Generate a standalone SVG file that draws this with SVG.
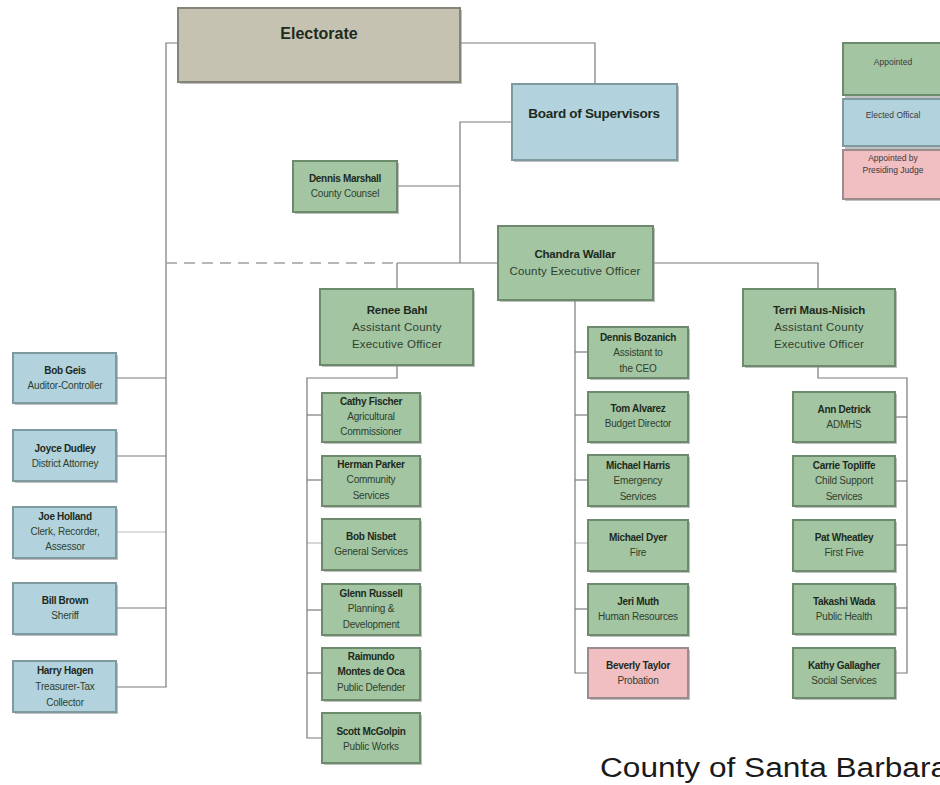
<svg xmlns="http://www.w3.org/2000/svg" width="940" height="785" viewBox="0 0 940 785">
<style>
text{font-family:"Liberation Sans",Arial,sans-serif;fill:#1e2a1e;text-anchor:middle;dominant-baseline:central}
.n{font-weight:bold;font-size:10px;letter-spacing:-0.3px}
.t{font-size:10px;fill:#2f3f2f;letter-spacing:-0.2px}
.N{font-weight:bold;font-size:11.5px;letter-spacing:-0.2px}
.T{font-size:11.5px;fill:#2f3f2f;letter-spacing:0.2px}
.sh{fill:#8d8d8d;opacity:0.55}
.gr{fill:#a3c5a2;stroke:#6d8a6c;stroke-width:2}
.bl{fill:#b2d3dd;stroke:#7f9a9f;stroke-width:2}
.pk{fill:#f1bec2;stroke:#9a8c8c;stroke-width:2}
.el{fill:#c5c2b1;stroke:#85847a;stroke-width:2}
.c{fill:none;stroke:#7a7a7a;stroke-width:1.2}
.d{fill:none;stroke:#a0a0a0;stroke-width:1.5;stroke-dasharray:11 7}
.lg{font-size:8.5px;fill:#3a3a3a}
</style>
<rect width="940" height="785" fill="#ffffff"/>
<g id="connectors">
<polyline class="c" points="178,43 166,43 166,687 117,687"/>
<line class="c" x1="117" y1="378" x2="166" y2="378"/>
<line class="c" x1="117" y1="456" x2="166" y2="456"/>
<line class="c" x1="117" y1="532" x2="166" y2="532" stroke-opacity="0.5"/>
<line class="c" x1="117" y1="608" x2="166" y2="608"/>
<polyline class="c" points="460,43 595,43 595,84"/>
<polyline class="c" points="512,122 460,122 460,263"/>
<line class="c" x1="397" y1="186" x2="460" y2="186"/>
<line class="d" x1="166" y1="263" x2="397" y2="263"/>
<line class="c" x1="397" y1="263" x2="498" y2="263"/>
<line class="c" x1="397" y1="263" x2="397" y2="289"/>
<polyline class="c" points="653,263 818,263 818,289"/>
<polyline class="c" points="397,365 397,378 307,378 307,738 322,738"/>
<line class="c" x1="307" y1="415" x2="322" y2="415"/>
<line class="c" x1="307" y1="480" x2="322" y2="480"/>
<line class="c" x1="307" y1="543" x2="322" y2="543" stroke-opacity="0.5"/>
<line class="c" x1="307" y1="610" x2="322" y2="610"/>
<line class="c" x1="307" y1="673" x2="322" y2="673"/>
<polyline class="c" points="575,300 575,673 588,673"/>
<line class="c" x1="575" y1="352" x2="588" y2="352"/>
<line class="c" x1="575" y1="415" x2="588" y2="415"/>
<line class="c" x1="575" y1="480" x2="588" y2="480"/>
<line class="c" x1="575" y1="543" x2="588" y2="543" stroke-opacity="0.5"/>
<line class="c" x1="575" y1="609" x2="588" y2="609"/>
<polyline class="c" points="818,366 818,378 907,378 907,673 895,673"/>
<line class="c" x1="895" y1="417" x2="907" y2="417"/>
<line class="c" x1="895" y1="481" x2="907" y2="481"/>
<line class="c" x1="895" y1="545" x2="907" y2="545"/>
<line class="c" x1="895" y1="608" x2="907" y2="608"/>
</g>

<g id="electorate"><rect class="sh" x="180" y="10" width="282" height="74"/><rect class="el" x="178" y="8" width="282" height="74"/><text x="319" y="33" style="font-weight:bold;font-size:16px">Electorate</text></g>
<g id="board"><rect class="sh" x="514" y="86" width="165" height="76"/><rect class="bl" x="512" y="84" width="165" height="76"/><text x="594" y="113" style="font-weight:bold;font-size:13.5px;letter-spacing:-0.3px">Board of Supervisors</text></g>

<g id="legend">
<rect class="sh" x="845" y="45" width="100" height="156"/>
<rect class="gr" x="843" y="43" width="100" height="52"/><text class="lg" x="893" y="62">Appointed</text>
<rect class="bl" x="843" y="99" width="100" height="47"/><text class="lg" x="893" y="115">Elected Offical</text>
<rect class="pk" x="843" y="150" width="100" height="49"/><text class="lg" x="893" y="158">Appointed by</text><text class="lg" x="893" y="170">Presiding Judge</text>
</g>

<g id="dennis-marshall"><rect class="sh" x="295" y="163" width="104" height="51"/><rect class="gr" x="293" y="161" width="104" height="51"/><text class="n" x="345" y="178">Dennis Marshall</text><text class="t" x="345" y="193">County Counsel</text></g>
<g id="chandra-wallar"><rect class="sh" x="500" y="228" width="155" height="74"/><rect class="gr" x="498" y="226" width="155" height="74"/><text class="N" x="575" y="254">Chandra Wallar</text><text class="T" x="575" y="271">County Executive Officer</text></g>
<g id="renee-bahl"><rect class="sh" x="322" y="291" width="153" height="76"/><rect class="gr" x="320" y="289" width="153" height="76"/><text class="N" x="397" y="310">Renee Bahl</text><text class="T" x="397" y="327">Assistant County</text><text class="T" x="397" y="344">Executive Officer</text></g>
<g id="terri-maus-nisich"><rect class="sh" x="745" y="291" width="152" height="77"/><rect class="gr" x="743" y="289" width="152" height="77"/><text class="N" x="819" y="310">Terri Maus-Nisich</text><text class="T" x="819" y="327">Assistant County</text><text class="T" x="819" y="344">Executive Officer</text></g>

<g id="bob-geis"><rect class="sh" x="15" y="355" width="103" height="50"/><rect class="bl" x="13" y="353" width="103" height="50"/><text class="n" x="65" y="370">Bob Geis</text><text class="t" x="65" y="385">Auditor-Controller</text></g>
<g id="joyce-dudley"><rect class="sh" x="15" y="432" width="103" height="51"/><rect class="bl" x="13" y="430" width="103" height="51"/><text class="n" x="65" y="448">Joyce Dudley</text><text class="t" x="65" y="463">District Attorney</text></g>
<g id="joe-holland"><rect class="sh" x="15" y="509" width="103" height="51"/><rect class="bl" x="13" y="507" width="103" height="51"/><text class="n" x="65" y="516">Joe Holland</text><text class="t" x="65" y="531">Clerk, Recorder,</text><text class="t" x="65" y="546">Assessor</text></g>
<g id="bill-brown"><rect class="sh" x="15" y="585" width="103" height="51"/><rect class="bl" x="13" y="583" width="103" height="51"/><text class="n" x="65" y="600">Bill Brown</text><text class="t" x="65" y="615">Sheriff</text></g>
<g id="harry-hagen"><rect class="sh" x="15" y="663" width="103" height="51"/><rect class="bl" x="13" y="661" width="103" height="51"/><text class="n" x="65" y="670">Harry Hagen</text><text class="t" x="65" y="686">Treasurer-Tax</text><text class="t" x="65" y="702">Collector</text></g>

<g id="cathy-fischer"><rect class="sh" x="324" y="395" width="98" height="49"/><rect class="gr" x="322" y="393" width="98" height="49"/><text class="n" x="371" y="401">Cathy Fischer</text><text class="t" x="371" y="416">Agricultural</text><text class="t" x="371" y="431">Commissioner</text></g>
<g id="herman-parker"><rect class="sh" x="324" y="458" width="98" height="50"/><rect class="gr" x="322" y="456" width="98" height="50"/><text class="n" x="371" y="464">Herman Parker</text><text class="t" x="371" y="479">Community</text><text class="t" x="371" y="495">Services</text></g>
<g id="bob-nisbet"><rect class="sh" x="324" y="521" width="98" height="51"/><rect class="gr" x="322" y="519" width="98" height="51"/><text class="n" x="371" y="536">Bob Nisbet</text><text class="t" x="371" y="551">General Services</text></g>
<g id="glenn-russell"><rect class="sh" x="324" y="586" width="98" height="51"/><rect class="gr" x="322" y="584" width="98" height="51"/><text class="n" x="371" y="593">Glenn Russell</text><text class="t" x="371" y="608">Planning &amp;</text><text class="t" x="371" y="624">Development</text></g>
<g id="raimundo-montes-de-oca"><rect class="sh" x="324" y="650" width="98" height="52"/><rect class="gr" x="322" y="648" width="98" height="52"/><text class="n" x="371" y="656">Raimundo</text><text class="n" x="371" y="671">Montes de Oca</text><text class="t" x="371" y="687">Public Defender</text></g>
<g id="scott-mcgolpin"><rect class="sh" x="324" y="715" width="98" height="50"/><rect class="gr" x="322" y="713" width="98" height="50"/><text class="n" x="371" y="731">Scott McGolpin</text><text class="t" x="371" y="746">Public Works</text></g>

<g id="dennis-bozanich"><rect class="sh" x="590" y="329" width="100" height="51"/><rect class="gr" x="588" y="327" width="100" height="51"/><text class="n" x="638" y="337">Dennis Bozanich</text><text class="t" x="638" y="352">Assistant to</text><text class="t" x="638" y="368">the CEO</text></g>
<g id="tom-alvarez"><rect class="sh" x="590" y="394" width="100" height="50"/><rect class="gr" x="588" y="392" width="100" height="50"/><text class="n" x="638" y="408">Tom Alvarez</text><text class="t" x="638" y="423">Budget Director</text></g>
<g id="michael-harris"><rect class="sh" x="590" y="457" width="100" height="51"/><rect class="gr" x="588" y="455" width="100" height="51"/><text class="n" x="638" y="465">Michael Harris</text><text class="t" x="638" y="480">Emergency</text><text class="t" x="638" y="496">Services</text></g>
<g id="michael-dyer"><rect class="sh" x="590" y="522" width="100" height="51"/><rect class="gr" x="588" y="520" width="100" height="51"/><text class="n" x="638" y="537">Michael Dyer</text><text class="t" x="638" y="552">Fire</text></g>
<g id="jeri-muth"><rect class="sh" x="590" y="586" width="100" height="51"/><rect class="gr" x="588" y="584" width="100" height="51"/><text class="n" x="638" y="601">Jeri Muth</text><text class="t" x="638" y="616">Human Resources</text></g>
<g id="beverly-taylor"><rect class="sh" x="590" y="650" width="100" height="50"/><rect class="pk" x="588" y="648" width="100" height="50"/><text class="n" x="638" y="665">Beverly Taylor</text><text class="t" x="638" y="680">Probation</text></g>

<g id="ann-detrick"><rect class="sh" x="795" y="394" width="102" height="50"/><rect class="gr" x="793" y="392" width="102" height="50"/><text class="n" x="844" y="409">Ann Detrick</text><text class="t" x="844" y="424">ADMHS</text></g>
<g id="carrie-topliffe"><rect class="sh" x="795" y="458" width="102" height="50"/><rect class="gr" x="793" y="456" width="102" height="50"/><text class="n" x="844" y="465">Carrie Topliffe</text><text class="t" x="844" y="480">Child Support</text><text class="t" x="844" y="496">Services</text></g>
<g id="pat-wheatley"><rect class="sh" x="795" y="522" width="102" height="51"/><rect class="gr" x="793" y="520" width="102" height="51"/><text class="n" x="844" y="537">Pat Wheatley</text><text class="t" x="844" y="552">First Five</text></g>
<g id="takashi-wada"><rect class="sh" x="795" y="586" width="102" height="50"/><rect class="gr" x="793" y="584" width="102" height="50"/><text class="n" x="844" y="601">Takashi Wada</text><text class="t" x="844" y="616">Public Health</text></g>
<g id="kathy-gallagher"><rect class="sh" x="795" y="650" width="102" height="50"/><rect class="gr" x="793" y="648" width="102" height="50"/><text class="n" x="844" y="665">Kathy Gallagher</text><text class="t" x="844" y="680">Social Services</text></g>

<text x="600" y="777" style="font-size:27px;fill:#1a1a1a;text-anchor:start;dominant-baseline:auto" textLength="348" lengthAdjust="spacingAndGlyphs">County of Santa Barbara</text>
</svg>
